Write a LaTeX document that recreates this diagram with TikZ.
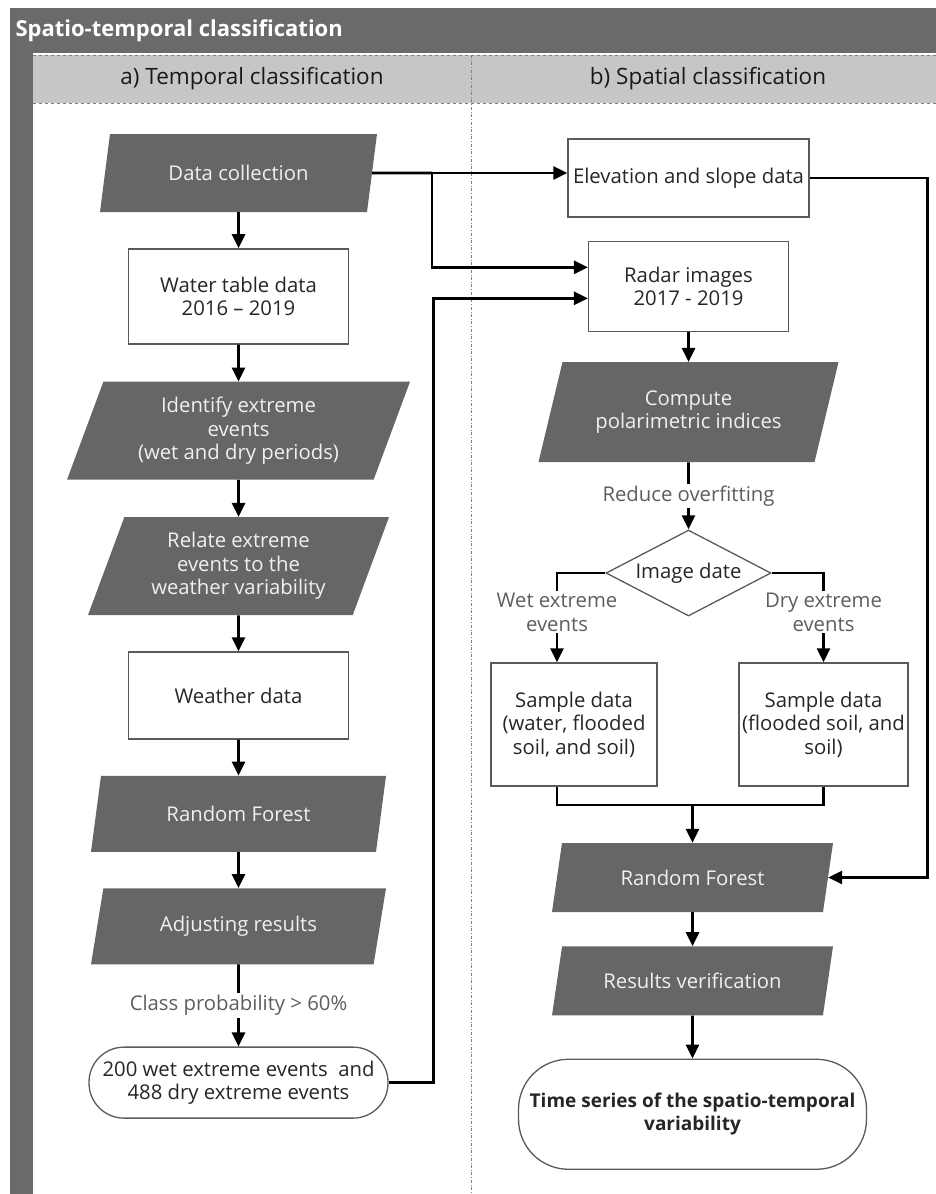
\documentclass[tikz,border=0pt]{standalone}
\usepackage{fontspec}
\setmainfont{Open Sans}
\usepackage{xcolor}
\usepackage{tikz}
\usetikzlibrary{shapes.geometric, arrows.meta, positioning}

\definecolor{bargray}{HTML}{6A6A6A}
\definecolor{iogray}{HTML}{666666}
\definecolor{lanegray}{HTML}{C6C6C6}
\definecolor{edgegray}{HTML}{5A5A5A}
\definecolor{lblgray}{HTML}{5E5E5E}

\begin{document}
\begin{tikzpicture}[
    x=1pt, y=1pt,
    font=\fontsize{20.3}{23.5}\selectfont,
    io/.style={trapezium, trapezium left angle=63, trapezium right angle=117, trapezium stretches body, fill=iogray, text=white!94!black, align=center, inner sep=2pt},
    proc/.style={rectangle, draw=edgegray, line width=1.3pt, fill=white, text=black!85, align=center, inner xsep=3pt},
    term/.style={proc, rounded corners=#1},
    decide/.style={diamond, draw=edgegray, line width=1.3pt, fill=white, aspect=1.9, inner sep=1pt, align=center, text=black!85},
    lbl/.style={fill=white, text=lblgray, align=center, inner sep=2pt},
    arr/.style={-{Triangle[length=14pt, width=13pt]}, line width=2.7pt},
    link/.style={line width=2.7pt},
    title/.style={text=white, anchor=west, font=\bfseries\fontsize{22}{26}\selectfont},
    lanehead/.style={text=black!90, font=\fontsize{22.5}{26}\selectfont},
]
    \useasboundingbox (0,0) rectangle (936,-1194);

    % pool and lanes
    \fill[bargray] (10,-8) rectangle (936,-53);
    \fill[bargray] (10,-53) rectangle (33,-1194);
    \fill[lanegray] (33,-55) rectangle (936,-103);
    \draw[gray, dashed, line width=0.8pt] (33,-55) -- (936,-55) (33,-103) -- (936,-103);
    \draw[gray, dash dot, line width=0.8pt] (471,-55) -- (471,-1194);
    \node[title] (pool) at (12,-31) {Spatio-temporal classification};
    \node[lanehead] (lanea) at (252,-79) {a) Temporal classification};
    \node[lanehead] (laneb) at (708,-79) {b) Spatial classification};

    % a) temporal classification
    \node[io, minimum width=277pt, minimum height=78pt] (dc) at (238.5,-173) {Data collection};
    \node[proc, minimum width=220pt, minimum height=95pt, below=36pt of dc] (wtd) {Water table data\\2016 – 2019};
    \node[io, minimum width=343pt, minimum height=98pt, below=37pt of wtd] (ident) {Identify extreme\\events\\(wet and dry periods)};
    \node[io, minimum width=301pt, minimum height=98pt, below=37pt of ident] (relate) {Relate extreme\\events to the\\weather variability};
    \node[proc, minimum width=220pt, minimum height=87pt, below=36pt of relate] (weather) {Weather data};
    \node[io, minimum width=295pt, minimum height=76pt, below=36pt of weather] (rfa) {Random Forest};
    \node[io, minimum width=295pt, minimum height=76pt, below=36pt of rfa] (adj) {Adjusting results};
    \node[term=35pt, minimum width=299pt, minimum height=71pt, below=82pt of adj] (events) {200 wet extreme events~ and\\488 dry extreme events};

    % b) spatial classification
    \node[proc, minimum width=241pt, minimum height=78pt] (elev) at (688.5,-178) {Elevation and slope data};
    \node[proc, minimum width=200pt, minimum height=90pt, below=23pt of elev] (radar) {Radar images\\2017 - 2019};
    \node[io, minimum width=300pt, minimum height=100pt, below=30pt of radar] (comp) {Compute\\polarimetric indices};
    \node[decide, minimum width=165pt, minimum height=86pt, below=67pt of comp] (dec) {Image date};
    \node[proc, minimum width=166pt, minimum height=123pt] (wets) at (574,-724.5) {Sample data\\(water, flooded\\soil, and soil)};
    \node[proc, minimum width=167pt, minimum height=123pt] (drys) at (823.5,-724.5) {Sample data\\(flooded soil, and\\soil)};
    \node[io, minimum width=281pt, minimum height=69pt] (rfb) at (692.5,-877.5) {Random Forest};
    \node[io, minimum width=281pt, minimum height=69pt, below=34pt of rfb] (verif) {Results verification};
    \node[term=50pt, minimum width=348pt, minimum height=110pt, below=43pt of verif, font=\bfseries\fontsize{19}{23}\selectfont] (ts) {Time series of the spatio-temporal\\variability};

    \coordinate (fork) at (432,-173);
    \coordinate (wetx) at (557,-570);
    \coordinate (merge) at (692.5,-805);

    \draw[arr] (dc) -- (wtd);
    \draw[arr] (wtd) -- (ident);
    \draw[arr] (ident) -- (relate);
    \draw[arr] (relate) -- (weather);
    \draw[arr] (weather) -- (rfa);
    \draw[arr] (rfa) -- (adj);
    \draw[arr] (adj) -- node[lbl] {Class probability > 60\%} (events);

    \draw[link] (dc.east) -- (fork);
    \draw[arr] (fork) -- (fork -| elev.west);
    \draw[arr] (fork) |- ([yshift=19pt]radar.west);
    \draw[arr] (events.east) -- ++(45pt,0) |- ([yshift=-12pt]radar.west);
    \draw[arr] (elev.east) -- ++(118pt,0) |- (rfb.east);

    \draw[arr] (radar) -- (comp);
    \draw[arr] (comp) -- node[lbl] {Reduce overfitting} (dec);
    \draw[arr] (dec.west) -| node[lbl, pos=0.72] {Wet extreme\\events} (wets.north -| wetx);
    \draw[arr] (dec.east) -| node[lbl, pos=0.72] {Dry extreme\\events} (drys.north);
    \draw[link] (wets.south -| wetx) |- (merge) -| (drys.south);
    \draw[arr] (merge) -- (rfb);
    \draw[arr] (rfb) -- (verif);
    \draw[arr] (verif) -- (ts);
\end{tikzpicture}
\end{document}
